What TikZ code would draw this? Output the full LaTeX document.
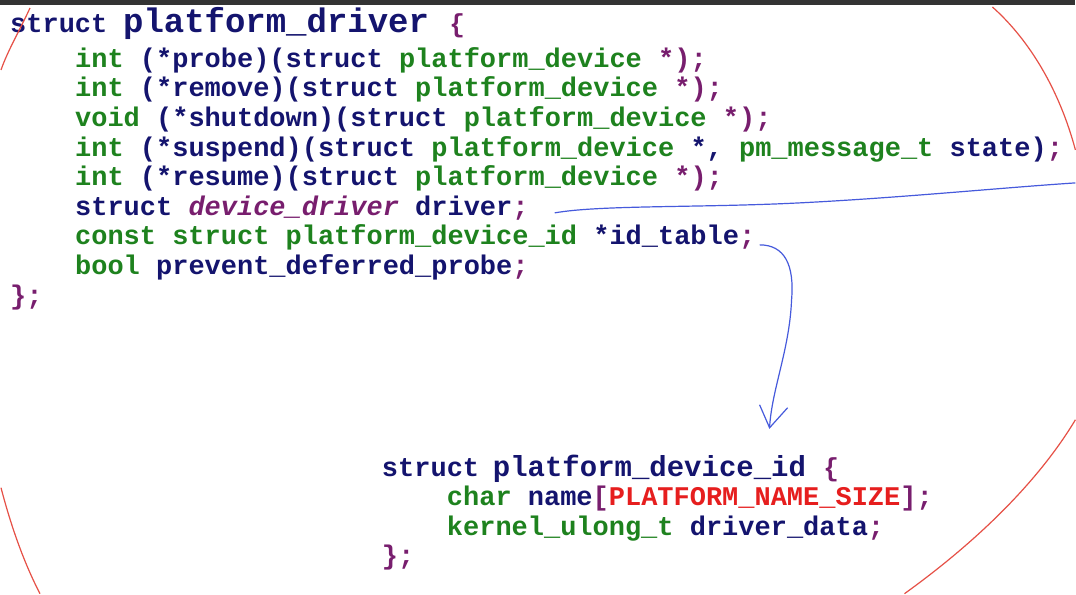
\documentclass[tikz,border=0pt]{standalone}
\usepackage{fontspec}
\setmonofont{Liberation Mono}
\definecolor{nv}{RGB}{20,20,110}
\definecolor{gr}{RGB}{30,130,30}
\definecolor{pu}{RGB}{120,30,110}
\definecolor{rd}{RGB}{230,30,30}
\definecolor{pen}{RGB}{230,80,70}
\definecolor{bpen}{RGB}{70,90,220}
\begin{document}
\begin{tikzpicture}[x=1pt,y=-1pt,
  code/.style={anchor=base west,inner sep=0pt,font=\ttfamily\bfseries\fontsize{27}{27}\selectfont},
  hcode/.style={anchor=base west,inner sep=0pt,font=\ttfamily\bfseries\fontsize{34}{34}\selectfont,text=nv},
  redpen/.style={draw=pen,line width=1.2pt},
  bluepen/.style={draw=bpen,line width=1.2pt}]
\fill[white] (0,0) rectangle (1076,594);
\fill[black!80] (0,0) rectangle (1076,5);
% struct platform_driver
\node[code,text=nv] (h1) at (10,33) {struct};
\node[hcode] (h1b) at (123,33) {platform\_driver \textcolor{pu}{\fontsize{26}{26}\selectfont\{}};
\node[code] (l1) at (75,68) {\textcolor{gr}{int} \textcolor{nv}{(*probe)(struct} \textcolor{gr}{platform\_device} \textcolor{pu}{*);}};
\node[code] (l2) at (75,97) {\textcolor{gr}{int} \textcolor{nv}{(*remove)(struct} \textcolor{gr}{platform\_device} \textcolor{pu}{*);}};
\node[code] (l3) at (75,127) {\textcolor{gr}{void} \textcolor{nv}{(*shutdown)(struct} \textcolor{gr}{platform\_device} \textcolor{pu}{*);}};
\node[code] (l4) at (75,157) {\textcolor{gr}{int} \textcolor{nv}{(*suspend)(struct} \textcolor{gr}{platform\_device} \textcolor{nv}{*,} \textcolor{gr}{pm\_message\_t} \textcolor{nv}{state)}\textcolor{pu}{;}};
\node[code] (l5) at (75,186) {\textcolor{gr}{int} \textcolor{nv}{(*resume)(struct} \textcolor{gr}{platform\_device} \textcolor{pu}{*);}};
\node[code] (l6) at (75,216) {\textcolor{nv}{struct} \textcolor{pu}{\itshape device\_driver} \textcolor{nv}{driver}\textcolor{pu}{;}};
\node[code] (l7) at (75,245) {\textcolor{gr}{const struct platform\_device\_id} \textcolor{nv}{*id\_table}\textcolor{pu}{;}};
\node[code] (l8) at (75,275) {\textcolor{gr}{bool} \textcolor{nv}{prevent\_deferred\_probe}\textcolor{pu}{;}};
\node[code,text=pu] (l9) at (10,305) {\};};
% struct platform_device_id
\node[code,text=nv] (h2) at (382,477) {struct};
\node[hcode,font=\ttfamily\bfseries\fontsize{29}{29}\selectfont] (h2b) at (493,477) {platform\_device\_id \textcolor{pu}{\fontsize{26}{26}\selectfont\{}};
\node[code] (m1) at (447,506) {\textcolor{gr}{char} \textcolor{nv}{name}\textcolor{pu}{[}\textcolor{rd}{PLATFORM\_NAME\_SIZE}\textcolor{pu}{];}};
\node[code] (m2) at (447,536) {\textcolor{gr}{kernel\_ulong\_t} \textcolor{nv}{driver\_data}\textcolor{pu}{;}};
\node[code,text=pu] (m3) at (382,565) {\};};
% red hand-drawn circle
\draw[redpen] (30,8) .. controls (20,30) and (8,50) .. (1,70);
\draw[redpen] (993,7) .. controls (1030,40) and (1060,90) .. (1076,150);
\draw[redpen] (1,488) .. controls (12,530) and (25,565) .. (40,594);
\draw[redpen] (905,594) .. controls (980,540) and (1040,480) .. (1076,420);
% blue annotations
\coordinate (b0) at (555,213);
\coordinate (b1) at (1076,183);
\draw[bluepen] (b0) .. controls (600,205) and (700,208) .. (800,203) .. controls (900,198) and (1000,188) .. (b1);
\coordinate (a0) at (760,245);
\coordinate (a1) at (770,428);
\draw[bluepen] (a0) .. controls (785,245) and (795,265) .. (792,300) .. controls (790,350) and (772,390) .. (a1);
\draw[bluepen] (760,405) -- (a1) -- (788,408);
\end{tikzpicture}
\end{document}
